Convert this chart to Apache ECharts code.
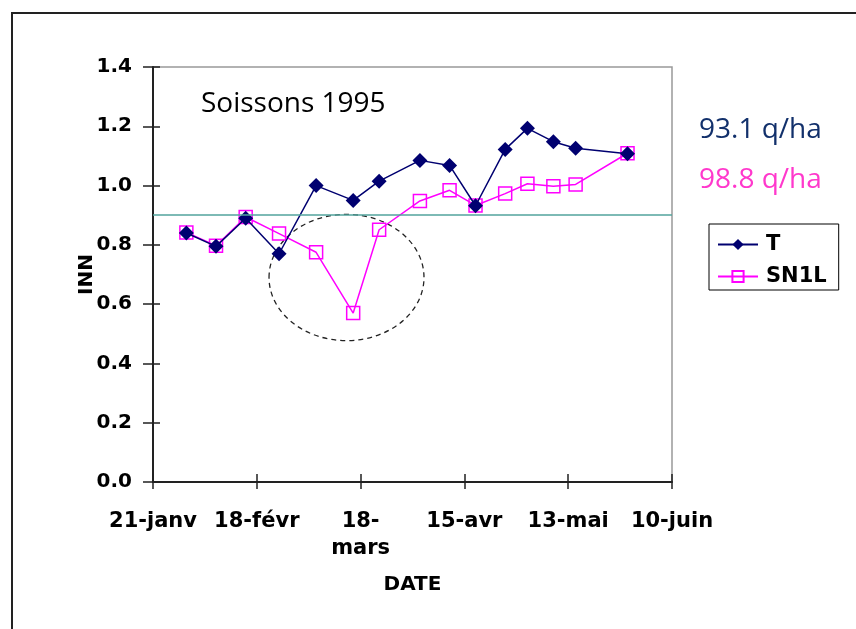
<!DOCTYPE html>
<html lang="fr">
<head>
  <meta charset="utf-8" />
  <title>Soissons 1995 - INN</title>
  <style>
    html, body { margin: 0; padding: 0; background: #fff; overflow: hidden; }
    #cadre { position: absolute; left: 11px; top: 12px; width: 900px; height: 700px; border: 2px solid #222; box-sizing: border-box; }
    #inn { position: absolute; left: 0; top: 0; width: 856px; height: 629px; }
  </style>
</head>
<body>
  <div id="cadre"></div>
  <div id="inn"></div>

<script src="https://cdn.jsdelivr.net/npm/echarts@6/dist/echarts.min.js"></script>
<script>
  "use strict";

  // donnees
  var debut = '1995-01-21';
  var dates = ['1995-01-30', '1995-02-07', '1995-02-15', '1995-02-24', '1995-03-06',
               '1995-03-16', '1995-03-23', '1995-04-03', '1995-04-11', '1995-04-18',
               '1995-04-26', '1995-05-02', '1995-05-09', '1995-05-15', '1995-05-29'];
  var serieT = [0.84, 0.795, 0.89, 0.77, 1.00, 0.95, 1.015, 1.085, 1.068, 0.932,
                1.122, 1.193, 1.148, 1.126, 1.107];
  var serieSN1L = [0.842, 0.797, 0.894, 0.838, 0.775, 0.57, 0.851, 0.948, 0.984, 0.933,
                   0.973, 1.006, 0.998, 1.004, 1.109];
  var etiquettesX = ['21-janv', '18-févr', '18-\nmars', '15-avr', '13-mai', '10-juin'];
  var seuil = 0.9;
  var rendements = ['93.1 q/ha', '98.8 q/ha'];

  function jours(d) {
    var p = d.split('-');
    var s = debut.split('-');
    return (Date.UTC(+p[0], p[1] - 1, +p[2]) - Date.UTC(+s[0], s[1] - 1, +s[2])) / 86400000;
  }

  function paires(valeurs) {
    var res = [];
    for (var i = 0; i < valeurs.length; i++) {
      res.push([jours(dates[i]), valeurs[i]]);
    }
    return res;
  }

  var police = '"DejaVu Sans", sans-serif';

  var myChart = echarts.init(document.getElementById('inn'));

  var option = {
    animation: false,
    grid: {
      left: 153, right: 184, top: 67, bottom: 147,
      show: true, borderColor: '#999', borderWidth: 1.5
    },
    legend: {
      left: 709, top: 224,
      orient: 'vertical',
      data: ['T', 'SN1L'],
      itemWidth: 40, itemHeight: 14, itemGap: 11,
      padding: [10, 12, 3, 8],
      borderColor: '#000', borderWidth: 1,
      textStyle: { fontFamily: police, fontWeight: 'bold', fontSize: 21, color: '#000', padding: [0, 0, 0, 3] }
    },
    xAxis: [{
      type: 'value', min: 0, max: 140, interval: 28,
      name: 'DATE', nameLocation: 'middle', nameGap: 93,
      nameTextStyle: { fontFamily: police, fontWeight: 'bold', fontSize: 20, color: '#000' },
      axisLine: { lineStyle: { color: '#222', width: 2 } },
      axisTick: { length: 7, lineStyle: { color: '#222', width: 1.5 } },
      axisLabel: {
        margin: 26, fontFamily: police, fontWeight: 'bold', fontSize: 21, color: '#000', lineHeight: 27,
        formatter: function (v) { return etiquettesX[Math.round(v / 28)]; }
      },
      splitLine: { show: false }
    }, {
      type: 'value', min: 0, max: 140, interval: 28, position: 'bottom',
      axisLine: { show: false },
      axisTick: { inside: true, length: 8, lineStyle: { color: '#222', width: 1.5 } },
      axisLabel: { show: false },
      splitLine: { show: false }
    }],
    yAxis: [{
      type: 'value', min: 0, max: 1.4, interval: 0.2,
      name: 'INN', nameLocation: 'middle', nameGap: 56, nameRotate: 90, nameMoveOverlap: false,
      nameTextStyle: { fontFamily: police, fontWeight: 'bold', fontSize: 20, color: '#000' },
      axisLine: { show: true, lineStyle: { color: '#222', width: 2 } },
      axisTick: { show: true, length: 10, lineStyle: { color: '#222', width: 1.5 } },
      axisLabel: {
        margin: 21, fontFamily: police, fontWeight: 'bold', fontSize: 20, color: '#000',
        formatter: function (v) { return v.toFixed(1); }
      },
      splitLine: { show: false }
    }, {
      type: 'value', min: 0, max: 1.4, interval: 0.2, position: 'left',
      axisLine: { show: false },
      axisTick: { show: true, inside: true, length: 7, lineStyle: { color: '#222', width: 1.5 } },
      axisLabel: { show: false },
      splitLine: { show: false }
    }],
    series: [{
      name: 'T', type: 'line', z: 3,
      data: paires(serieT),
      symbol: 'diamond', symbolSize: 15,
      itemStyle: { color: '#000070' },
      lineStyle: { color: '#000070', width: 1.5 },
      markLine: {
        silent: true, symbol: 'none', label: { show: false },
        lineStyle: { color: '#52a39c', width: 1.5, type: 'solid' },
        data: [{ yAxis: seuil }]
      }
    }, {
      name: 'SN1L', type: 'line', z: 2,
      data: paires(serieSN1L),
      symbol: 'rect', symbolSize: 13,
      itemStyle: { color: 'rgba(255,255,255,0)', borderColor: '#ff00ff', borderWidth: 1.5 },
      lineStyle: { color: '#ff00ff', width: 1.5 }
    }],
    graphic: [{
      type: 'text', id: 'titre', x: 201, y: 104,
      style: { text: 'Soissons 1995', font: '28px "Open Sans"', fill: '#000', verticalAlign: 'middle', textVerticalAlign: 'middle' }
    }, {
      type: 'text', id: 'rdtT', x: 699, y: 130,
      style: { text: rendements[0], font: '28px "Open Sans"', fill: '#12306b', verticalAlign: 'middle', textVerticalAlign: 'middle' }
    }, {
      type: 'text', id: 'rdtS', x: 699, y: 180,
      style: { text: rendements[1], font: '28px "Open Sans"', fill: '#ff38cc', verticalAlign: 'middle', textVerticalAlign: 'middle' }
    }]
  };

  myChart.setOption(option);

  // cercle pointille autour de la chute de SN1L (en unites du graphique)
  var centre = myChart.convertToPixel({ gridIndex: 0 }, [52.2, 0.69]);
  var bord = myChart.convertToPixel({ gridIndex: 0 }, [52.2 + 20.9, 0.69 + 0.213]);
  myChart.setOption({
    graphic: [{
      type: 'ellipse', id: 'cercle', z: 1,
      shape: { cx: centre[0], cy: centre[1], rx: bord[0] - centre[0], ry: centre[1] - bord[1] },
      style: { fill: 'none', stroke: '#222', lineWidth: 1.3, lineDash: [5, 4] }
    }]
  });
</script>
</body>
</html>
